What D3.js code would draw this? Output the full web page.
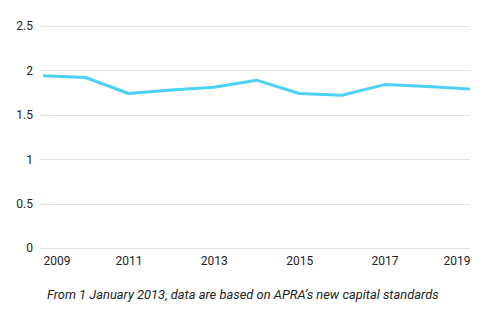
<!DOCTYPE html>
<html>
<head>
<meta charset="utf-8">
<script src="https://cdn.jsdelivr.net/npm/d3@7"></script>
<style>
  body { margin: 0; background: #fff; }
  svg text { font-family: Roboto, "Liberation Sans", sans-serif; fill: #222; }
</style>
</head>
<body>
<svg width="500" height="326"></svg>
<script>
var years = [2009, 2010, 2011, 2012, 2013, 2014, 2015, 2016, 2017, 2018, 2019];
var values = [1.94, 1.92, 1.74, 1.78, 1.81, 1.89, 1.74, 1.72, 1.84, 1.82, 1.79];
var yTicks = [0, 0.5, 1, 1.5, 2, 2.5];
var xTickYears = [2009, 2011, 2013, 2015, 2017, 2019];
var noteText = "From 1 January 2013, data are based on APRA\u2019s new capital standards";

var svg = d3.select("svg"),
    margin = {top: 26, right: 30, bottom: 78, left: 43},
    width = +svg.attr("width") - margin.left - margin.right,
    height = +svg.attr("height") - margin.top - margin.bottom;

var x = d3.scaleLinear().domain([2009, 2019]).range([0, width]),
    y = d3.scaleLinear().domain([0, 2.5]).range([height, 0]);

var g = svg.append("g")
    .attr("transform", "translate(" + margin.left + "," + margin.top + ")");

// horizontal grid lines
g.append("g")
    .attr("class", "grid")
    .selectAll("line")
    .data(yTicks)
    .enter().append("line")
    .attr("x1", -3)
    .attr("x2", width)
    .attr("y1", function(d) { return Math.round(y(d)) + 0.5; })
    .attr("y2", function(d) { return Math.round(y(d)) + 0.5; })
    .attr("stroke", "#e4e4e4")
    .attr("stroke-width", 1);

// y axis labels
var yAxis = d3.axisLeft(y).tickValues(yTicks).tickSize(0).tickPadding(10)
    .tickFormat(function(d) { return String(d); });
var yAxisG = g.append("g").call(yAxis);
yAxisG.select(".domain").remove();
yAxisG.selectAll("text").style("font-size", "12px").attr("fill", "#222");

// x axis labels; first and last kept inside the plot
var xAxis = d3.axisBottom(x).tickValues(xTickYears).tickSize(0).tickPadding(8)
    .tickFormat(d3.format("d"));
var xAxisG = g.append("g")
    .attr("transform", "translate(0," + height + ")")
    .call(xAxis);
xAxisG.select(".domain").remove();
xAxisG.selectAll("text")
    .style("font-size", "12px")
    .attr("fill", "#222")
    .attr("text-anchor", function(d, i) {
        if (i === 0) return "start";
        if (i === xTickYears.length - 1) return "end";
        return "middle";
    });

var line = d3.line()
    .x(function(d, i) { return x(years[i]); })
    .y(function(d) { return y(d); });

g.append("path")
    .datum(values)
    .attr("d", line)
    .attr("fill", "none")
    .attr("stroke", "#4dd2f5")
    .attr("stroke-width", 3)
    .attr("stroke-linejoin", "round");

svg.append("text")
    .attr("x", 47)
    .attr("y", 299)
    .style("font-size", "12.9px")
    .style("font-style", "italic")
    .text(noteText);
</script>
</body>
</html>
